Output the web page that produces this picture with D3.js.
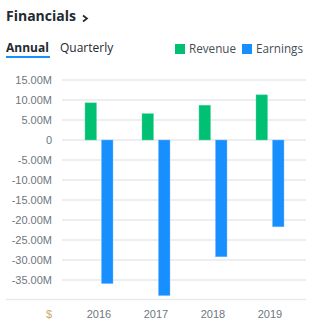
<!DOCTYPE html>
<html>
<head>
<meta charset="utf-8">
<script src="https://cdn.jsdelivr.net/npm/d3@7"></script>
<style>
  body { margin: 0; background: #fff; }
  svg text { font-family: "Liberation Sans", Arial, sans-serif; }
  .hdr { font-family: "Open Sans", sans-serif !important; }
</style>
</head>
<body>
<svg id="chart"></svg>
<script>
// chart data
var years = ["2016", "2017", "2018", "2019"];
var revenue = [9.3, 6.6, 8.7, 11.3];        // millions
var earnings = [-35.9, -38.9, -29.2, -21.7]; // millions
var yTicks = [15, 10, 5, 0, -5, -10, -15, -20, -25, -30, -35];
var seriesNames = ["Revenue", "Earnings"];
var seriesColors = ["#00c073", "#188fff"];

var width = 326, height = 333;
var svg = d3.select("#chart").attr("width", width).attr("height", height);

/* ~~~~ header ~~~~ */
svg.append("text").attr("class", "hdr").attr("x", 6).attr("y", 21)
  .style("font-size", "14px").style("font-weight", "bold").attr("fill", "#232a31")
  .text("Financials");
svg.append("path").attr("d", "M83,15.5 L87,18.5 L83,21.5")
  .attr("fill", "none").attr("stroke", "#232a31").attr("stroke-width", 1.7);

svg.append("text").attr("class", "hdr").attr("x", 6).attr("y", 52)
  .style("font-size", "12px").style("font-weight", "bold").attr("fill", "#232a31")
  .text("Annual");
svg.append("rect").attr("x", 6).attr("y", 56).attr("width", 44).attr("height", 2).attr("fill", "#188fff");
svg.append("text").attr("class", "hdr").attr("x", 60).attr("y", 52)
  .style("font-size", "12px").attr("fill", "#232a31").text("Quarterly");

// legend
var legendX = [175, 242];
seriesNames.forEach(function(n, i){
  svg.append("rect").attr("x", legendX[i]).attr("y", 44).attr("width", 10).attr("height", 10).attr("fill", seriesColors[i]);
  svg.append("text").attr("class", "hdr").attr("x", legendX[i] + 14).attr("y", 53)
    .style("font-size", "11.7px").attr("fill", "#464e56").text(n);
});

/* ~~~~ scales ~~~~ */
var y = d3.scaleLinear().domain([-35, 15]).range([280, 80]);
var x = d3.scaleBand().domain(years).range([70.5, 298.5]);
var inner = d3.scaleBand().domain(seriesNames).range([-14, 14]).paddingInner(0.3);

// gridlines
svg.append("g").selectAll("line").data(yTicks).enter().append("line")
  .attr("x1", 62).attr("x2", 306)
  .attr("y1", function(d){ return y(d); }).attr("y2", function(d){ return y(d); })
  .attr("stroke", "#e6e9ed").attr("stroke-width", 1.5);

// y labels
svg.append("g").selectAll("text").data(yTicks).enter().append("text")
  .attr("x", 52).attr("y", function(d){ return y(d) + 4; })
  .attr("text-anchor", "end").style("font-size", "11px").attr("fill", "#6e7780")
  .text(function(d){ return d === 0 ? "0" : d.toFixed(2) + "M"; });

// bottom line
svg.append("line").attr("x1", 6).attr("x2", 306).attr("y1", 299.5).attr("y2", 299.5)
  .attr("stroke", "#e6e9ed").attr("stroke-width", 1.5);

/* ~~~~ bars ~~~~ */
var rows = years.map(function(yr, i){ return [revenue[i], earnings[i]]; });
var groups = svg.append("g").selectAll("g").data(rows).enter().append("g")
  .attr("transform", function(d, i){ return "translate(" + (x(years[i]) + x.bandwidth() / 2) + ",0)"; });
groups.selectAll("rect").data(function(d){ return d; }).enter().append("rect")
  .attr("x", function(d, j){ return inner(seriesNames[j]); })
  .attr("width", inner.bandwidth())
  .attr("y", function(d){ return Math.min(y(d), y(0)); })
  .attr("height", function(d){ return Math.abs(y(d) - y(0)); })
  .attr("fill", function(d, j){ return seriesColors[j]; })
  .attr("stroke", function(d, j){ return j ? "#7fbfff" : "#66d9a8"; })
  .attr("stroke-width", 0.6)
  .attr("stroke-opacity", 0.7);

// x labels
svg.append("text").attr("x", 49).attr("y", 318).attr("text-anchor", "middle")
  .style("font-size", "11px").attr("fill", "#c9a86a").text("$");
svg.append("g").selectAll("text").data(years).enter().append("text")
  .attr("x", function(d){ return x(d) + x.bandwidth() / 2; }).attr("y", 318)
  .attr("text-anchor", "middle").style("font-size", "11px").attr("fill", "#6e7780")
  .text(function(d){ return d; });
</script>
</body>
</html>
